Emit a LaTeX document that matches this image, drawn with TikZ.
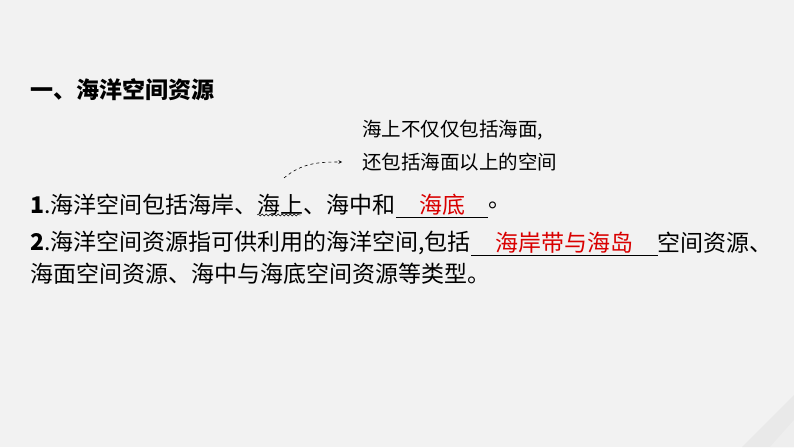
\documentclass[tikz,border=0pt]{standalone}
\usepackage{fontspec}
\setmainfont{Liberation Serif}
\newfontfamily\cjk{Noto Sans CJK SC}
\usetikzlibrary{positioning, decorations.pathmorphing}

\tikzset{
  txt/.style={inner sep=0pt, anchor=west, font=\cjk\fontsize{23}{26}\selectfont},
  note/.style={txt, font=\cjk\fontsize{19.5}{22}\selectfont},
  ans/.style={txt, text=red!85!black, minimum height=24pt},
  rule/.style={thin, black}
}

\begin{document}
\begin{tikzpicture}[x=1pt, y=-1pt]
  \fill[gray!10] (0,0) rectangle (794,447);
  \useasboundingbox (0,0) rectangle (794,447);
  % corner decoration
  \fill[gray!17] (794,395) -- (794,447) -- (742,447) -- cycle;
  \fill[gray!13] (770,447) -- (794,420) -- (794,447) -- cycle;

  % title
  \node[txt, font=\cjk\bfseries\fontsize{23}{26}\selectfont] (title) at (30,90) {一、海洋空间资源};

  % side note
  \node[note] (n1) at (362,130) {海上不仅仅包括海面,};
  \node[note] (n2) at (362,162) {还包括海面以上的空间};

  % line 1
  \node[txt] (l1) at (30,205) {\textbf{1}.海洋空间包括海岸、海上、海中和};
  \node[ans, minimum width=92pt, right=0pt of l1] (a1) {海底};
  \node[txt, right=0pt of a1] (l1e) {。};
  \draw[rule] (a1.south west) -- (a1.south east);
  \coordinate (w1) at (257,215);
  \coordinate (w2) at (301,215);
  \coordinate (tip) at (284,178);
  \draw[decorate, decoration={snake, amplitude=1pt, segment length=4pt}] (w1) -- (w2);
  \draw[dashed, semithick, ->, >=stealth] (tip) to[out=40, in=180] ([xshift=-20pt]n2.west);

  % line 2
  \node[txt] (l2) at (30,243) {\textbf{2}.海洋空间资源指可供利用的海洋空间,包括};
  \node[ans, minimum width=186pt, right=0pt of l2] (a2) {海岸带与海岛};
  \node[txt, right=0pt of a2] (l2e) {空间资源、};
  \draw[rule] (a2.south west) -- (a2.south east);

  % line 3
  \node[txt] (l3) at (30,274) {海面空间资源、海中与海底空间资源等类型。};
\end{tikzpicture}
\end{document}
